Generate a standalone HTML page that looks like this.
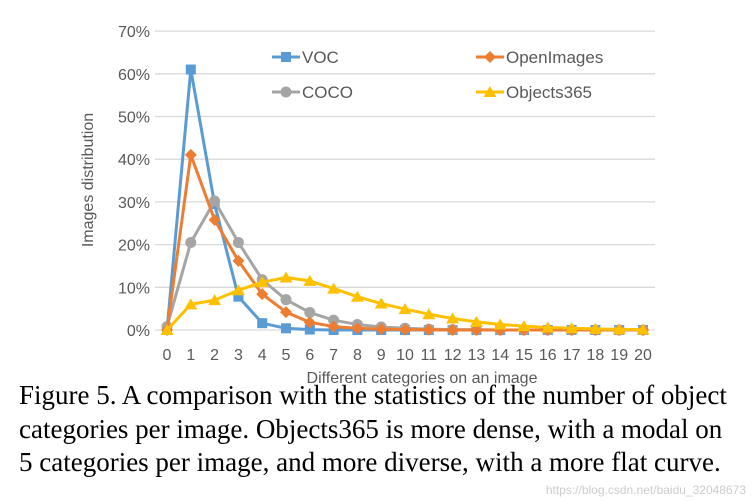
<!DOCTYPE html>
<html><head><meta charset="utf-8"><style>
body{margin:0;background:#fff;width:752px;height:501px;overflow:hidden;position:relative}
svg{position:absolute;left:0;top:0}
.cap{position:absolute;left:19px;top:379px;font-family:"Liberation Serif",serif;font-size:27px;line-height:33.5px;color:#000;width:730px;white-space:nowrap}
.wm{position:absolute;right:6px;bottom:4px;font-family:"Liberation Sans",sans-serif;font-size:12px;color:#ccc}
</style></head><body>
<svg id="chart" width="752" height="501" font-family="Liberation Sans, sans-serif"></svg>
<div class="cap">Figure 5. A comparison with the statistics of the number of object<br>categories per image. Objects365 is more dense, with a modal on<br>5 categories per image, and more diverse, with a more flat curve.</div>
<div class="wm">https://blog.csdn.net/baidu_32048673</div>
<script>
const categories=[0,1,2,3,4,5,6,7,8,9,10,11,12,13,14,15,16,17,18,19,20];
const yTicks=[0,10,20,30,40,50,60,70];
const voc=[0,61,29.5,7.8,1.6,0.4,0.1,0,0,0,0,0,0,0,0,0,0,0,0,0,0];
const openImages=[0,41,25.8,16.2,8.4,4.2,1.8,0.8,0.4,0.2,0.1,0.05,0,0,0,0,0,0,0,0,0];
const coco=[0.8,20.5,30.2,20.5,11.8,7.1,4.1,2.3,1.3,0.7,0.4,0.2,0.1,0.1,0,0,0,0,0,0,0];
const objects365=[0,6,7,9.3,11.2,12.3,11.5,9.7,7.8,6.2,4.9,3.7,2.7,1.9,1.3,0.9,0.6,0.4,0.25,0.15,0.1];
const NS="http://www.w3.org/2000/svg";
const svg=document.getElementById('chart');
const x=i=>167+i*23.8, y=v=>330-v*4.27;
function mk(t,a,p){const e=document.createElementNS(NS,t);for(const k in a)e.setAttribute(k,a[k]);(p||svg).appendChild(e);return e;}
yTicks.forEach(t=>{
 const g=mk('line',{x1:155,x2:655,y1:y(t),y2:y(t),stroke:'#d9d9d9','stroke-width':1.3});
 
 
 const l=mk('text',{x:150,y:y(t)+6,'text-anchor':'end','font-size':16,fill:'#595959'});l.textContent=t+'%';
 
 
});
categories.forEach((c,i)=>{
 const l=mk('text',{x:x(i),y:360,'text-anchor':'middle','font-size':16,fill:'#595959'});l.textContent=c;
 
 
});
let t=mk('text',{x:422,y:383,'text-anchor':'middle','font-size':16,fill:'#595959'});t.textContent='Different categories on an image';


t=mk('text',{x:0,y:0,'text-anchor':'middle','font-size':16,fill:'#595959',transform:'translate(93,180) rotate(-90)'});t.textContent='Images distribution';


function marker(shape,cx,cy,col,g){
 if(shape==='sq')return mk('rect',{x:cx-5,y:cy-5,width:10,height:10,fill:col},g);
 if(shape==='di')return mk('polygon',{points:`${cx},${cy-6} ${cx+6},${cy} ${cx},${cy+6} ${cx-6},${cy}`,fill:col},g);
 if(shape==='ci')return mk('circle',{cx,cy,r:5.5,fill:col},g);
 return mk('polygon',{points:`${cx},${cy-6} ${cx+6.5},${cy+5} ${cx-6.5},${cy+5}`,fill:col},g);
}
const series=[['voc',voc,'#5b9bd5','sq'],['coco',coco,'#a5a5a5','ci'],['openimages',openImages,'#ed7d31','di'],['objects365',objects365,'#ffc000','tr']];
series.forEach(([n,d,c,s])=>{
 const g=mk('g',{});
 
 
 const p=mk('polyline',{points:d.map((v,i)=>x(i)+','+y(v)).join(' '),fill:'none',stroke:c,'stroke-width':3,'stroke-linejoin':'round'},g);
 
 
 d.forEach((v,i)=>{const m=marker(s,x(i),y(v),c,g);
  
  });
});
const legend=[['VOC','#5b9bd5','sq',272,57],['OpenImages','#ed7d31','di',476,57],['COCO','#a5a5a5','ci',272,92],['Objects365','#ffc000','tr',476,92]];
legend.forEach(([n,c,s,lx,ly])=>{
 const g=mk('g',{});
 
 
 mk('line',{x1:lx,x2:lx+28,y1:ly,y2:ly,stroke:c,'stroke-width':3},g);
 marker(s,lx+14,ly,c,g);
 const tt=mk('text',{x:lx+30,y:ly+6,'font-size':17,fill:'#595959'},g);tt.textContent=n;
});
</script>
</body></html>
